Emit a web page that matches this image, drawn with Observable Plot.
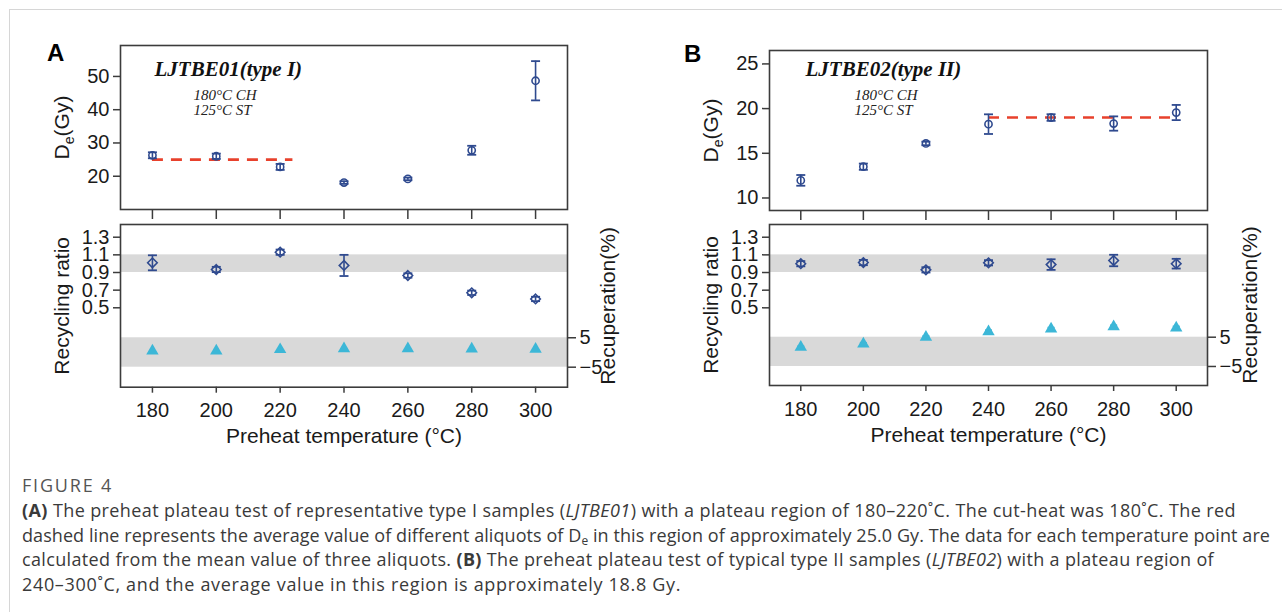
<!DOCTYPE html>
<html>
<head>
<meta charset="utf-8">
<script src="https://cdn.jsdelivr.net/npm/d3@7"></script>
<script src="https://cdn.jsdelivr.net/npm/@observablehq/plot@0.6"></script>
<style>
html,body{margin:0;padding:0;background:#fff;}
#root{position:relative;width:1282px;height:612px;overflow:hidden;font-family:"Liberation Sans",Arial,sans-serif;}
#card{position:absolute;left:9px;top:9px;right:-5px;bottom:-5px;border-top:1px solid #d6d6d6;border-left:1px solid #d6d6d6;}
.abs{position:absolute;top:0;}
.letter{position:absolute;font:bold 24px "Liberation Sans",Arial,sans-serif;line-height:24px;color:#000;}
#caption{position:absolute;left:22px;top:473px;font-family:"Open Sans",sans-serif;font-size:18px;color:#3a3a3a;line-height:24.8px;white-space:nowrap;}
#caption .ln{display:block;width:max-content;}
#caption .fig{color:#555;}
#caption sub{font-size:12px;vertical-align:-3px;line-height:0;}
</style>
</head>
<body>
<div id="root">
  <div id="card"></div>
  <div class="letter" style="left:47px;top:41px;">A</div>
  <div class="letter" style="left:684px;top:42px;">B</div>
  <div id="caption">
    <span class="ln fig" data-w="91">FIGURE 4</span>
    <span class="ln" data-w="1214"><b>(A)</b> The preheat plateau test of representative type I samples (<i>LJTBE01</i>) with a plateau region of 180–220˚C. The cut-heat was 180˚C. The red</span>
    <span class="ln" data-w="1248">dashed line represents the average value of different aliquots of D<sub>e</sub> in this region of approximately 25.0 Gy. The data for each temperature point are</span>
    <span class="ln" data-w="1192">calculated from the mean value of three aliquots. <b>(B)</b> The preheat plateau test of typical type II samples (<i>LJTBE02</i>) with a plateau region of</span>
    <span class="ln" data-w="659">240–300˚C, and the average value in this region is approximately 18.8 Gy.</span>
  </div>
</div>
<script>
// ---------- data ----------
const temps = [180, 200, 220, 240, 260, 280, 300];

const deA      = [26.3, 26.0, 22.8, 18.1, 19.2, 27.8, 48.7];
const deErrA   = [0.9, 0.8, 0.9, 0.4, 0.4, 1.35, 5.9];
const deB      = [11.97, 13.5, 16.1, 18.26, 19.0, 18.33, 19.56];
const deErrB   = [0.6, 0.35, 0.2, 1.1, 0.37, 0.8, 0.85];

const ratioA    = [1.01, 0.934, 1.13, 0.98, 0.866, 0.67, 0.60];
const ratioErrA = [0.085, 0.03, 0.03, 0.12, 0.025, 0.025, 0.025];
const ratioB    = [1.0, 1.013, 0.93, 1.01, 0.99, 1.036, 1.0];
const ratioErrB = [0.03, 0.03, 0.03, 0.03, 0.06, 0.065, 0.055];

const recupA    = [0.5, 0.5, 1.0, 1.3, 1.3, 1.2, 1.1];
const recupErrA = [0, 0, 0, 0, 0, 0, 0];
const recupB    = [1.6, 2.7, 5.0, 6.9, 7.8, 8.6, 8.2];
const recupErrB = [0.3, 0.4, 0.4, 0.5, 0.5, 0.5, 0.5];

const plateauA = [180, 224, 25.0];   // x1, x2, De
const plateauB = [240, 300, 19.0];

const deTicksA = [20, 30, 40, 50];
const deTicksB = [10, 15, 20, 25];
const ratioTicks = [0.5, 0.7, 0.9, 1.1, 1.3];
const recupTicks = [-5, 5];
const ratioBand = [0.9, 1.1];
const recupBand = [-5, 5];

const titleA = "LJTBE01(type I)";
const titleB = "LJTBE02(type II)";
const notes = "180°C CH\n125°C ST";
const deLabel = "De(Gy)";
const ratioLabel = "Recycling ratio";
const recupLabel = "Recuperation(%)";
const xLabel = "Preheat temperature (°C)";

// ---------- style ----------
const blue = "#2f4a8f", cyan = "#3cb7d7", red = "#e8412c", bandFill = "#d9d9d9";
const ink = "#1a1a1a", frameCol = "#3c3c3c";
const sans = "'Liberation Sans', Arial, sans-serif";
const serif = "'Liberation Serif', 'Times New Roman', serif";
const capSymbol = {draw(ctx, size) { const r = Math.sqrt(size / Math.PI); ctx.moveTo(-r, 0); ctx.lineTo(r, 0); }};
const baseStyle = {background: "transparent", fontFamily: sans, fontSize: "20px", color: ink, overflow: "visible"};
const xDomain = [170, 310];

function subscriptDe(svg) {
  const ns = "http://www.w3.org/2000/svg";
  svg.querySelectorAll("text").forEach(t => {
    if (t.textContent === deLabel) {
      t.textContent = "";
      const a = document.createElementNS(ns, "tspan"); a.textContent = "D";
      const b = document.createElementNS(ns, "tspan"); b.textContent = "e";
      b.setAttribute("font-size", "14"); b.setAttribute("dy", "5");
      const c = document.createElementNS(ns, "tspan"); c.textContent = "(Gy)";
      c.setAttribute("dy", "-5");
      t.append(a, b, c);
    }
  });
}

function place(svg, left) {
  svg.classList.add("abs");
  svg.style.left = left + "px";
  svg.style.position = "absolute";
  svg.style.maxWidth = "none";
  document.getElementById("root").appendChild(svg);
}

function panel(cfg) {
  const W = 642;
  const mL = cfg.L - cfg.left0, mR = W - (cfg.R - cfg.left0);
  const deRows = temps.map((t, i) => ({t, v: cfg.de[i], lo: cfg.de[i] - cfg.deErr[i], hi: cfg.de[i] + cfg.deErr[i]}));
  const rRows = temps.map((t, i) => ({t, v: cfg.ratio[i], lo: cfg.ratio[i] - cfg.ratioErr[i], hi: cfg.ratio[i] + cfg.ratioErr[i]}));
  const cRows = temps.map((t, i) => ({t, v: cfg.recup[i], e: cfg.recupErr[i], lo: cfg.recup[i] - cfg.recupErr[i], hi: cfg.recup[i] + cfg.recupErr[i]}));
  const cErrRows = cRows.filter(d => d.e > 0);

  // bottom: recuperation (right axis)
  const HB = 460;
  const recupPlot = Plot.plot({
    width: W, height: HB, marginLeft: mL, marginRight: mR,
    marginTop: cfg.botT, marginBottom: HB - cfg.botB,
    x: {domain: xDomain, axis: null}, y: {domain: cfg.recupDomain, axis: null},
    style: baseStyle,
    marks: [
      Plot.rect([recupBand], {y1: d => d[0], y2: d => d[1], fill: bandFill}),
      Plot.ruleX(cErrRows, {x: "t", y1: "lo", y2: "hi", stroke: cyan, strokeWidth: 1.5}),
      Plot.dot(cErrRows, {x: "t", y: "hi", symbol: capSymbol, r: 3.5, stroke: cyan, strokeWidth: 1.6, fill: "none"}),
      Plot.dot(cRows, {x: "t", y: "v", symbol: "triangle", r: 4.6, fill: cyan, stroke: "none"}),
      Plot.axisY({anchor: "right", ticks: recupTicks, tickSize: 8, tickPadding: 4, label: null, fontSize: 20, strokeWidth: 1.5, stroke: frameCol}),
      Plot.text([recupLabel], {frameAnchor: "right", rotate: -90, dx: cfg.recupDx, textAnchor: "middle", lineAnchor: "middle", fontSize: 21, fill: ink})
    ]
  });
  place(recupPlot, cfg.left0);

  // bottom: recycling ratio (left axis)
  const ratioPlot = Plot.plot({
    width: W, height: HB, marginLeft: mL, marginRight: mR,
    marginTop: cfg.botT, marginBottom: HB - cfg.botB,
    x: {domain: xDomain}, y: {domain: cfg.ratioDomain},
    style: baseStyle,
    marks: [
      Plot.rect([ratioBand], {y1: d => d[0], y2: d => d[1], fill: bandFill}),
      Plot.ruleX(rRows, {x: "t", y1: "lo", y2: "hi", stroke: blue, strokeWidth: 1.6}),
      Plot.dot(rRows, {x: "t", y: "lo", symbol: capSymbol, r: 4.5, stroke: blue, strokeWidth: 1.8, fill: "none"}),
      Plot.dot(rRows, {x: "t", y: "hi", symbol: capSymbol, r: 4.5, stroke: blue, strokeWidth: 1.8, fill: "none"}),
      Plot.dot(rRows, {x: "t", y: "v", symbol: "diamond2", r: 4.3, stroke: blue, strokeWidth: 1.6, fill: "none"}),
      Plot.axisY({ticks: ratioTicks, tickFormat: d3.format(".1f"), tickSize: 7, tickPadding: 4, label: null, fontSize: 20, strokeWidth: 1.5, stroke: frameCol}),
      Plot.axisX({ticks: temps, tickSize: 6, tickPadding: 10, label: null, fontSize: 20, strokeWidth: 1.5, stroke: frameCol}),
      Plot.frame({stroke: frameCol, strokeWidth: 1.6}),
      Plot.text([ratioLabel], {frameAnchor: "left", rotate: -90, dx: -58, textAnchor: "middle", lineAnchor: "middle", fontSize: 21, fill: ink}),
      Plot.text([xLabel], {frameAnchor: "bottom", dy: 49.5, textAnchor: "middle", lineAnchor: "middle", fontSize: 21, fill: ink})
    ]
  });
  place(ratioPlot, cfg.left0);

  // top: De
  const HT = 240;
  const dePlot = Plot.plot({
    width: W, height: HT, marginLeft: mL, marginRight: mR,
    marginTop: cfg.topT, marginBottom: HT - cfg.topB,
    x: {domain: xDomain}, y: {domain: cfg.deDomain},
    style: baseStyle,
    marks: [
      Plot.ruleY([cfg.plateau], {x1: d => d[0], x2: d => d[1], y: d => d[2], stroke: red, strokeWidth: 2.6, strokeDasharray: "11,8"}),
      Plot.ruleX(deRows, {x: "t", y1: "lo", y2: "hi", stroke: blue, strokeWidth: 1.6}),
      Plot.dot(deRows, {x: "t", y: "lo", symbol: capSymbol, r: 4.5, stroke: blue, strokeWidth: 1.8, fill: "none"}),
      Plot.dot(deRows, {x: "t", y: "hi", symbol: capSymbol, r: 4.5, stroke: blue, strokeWidth: 1.8, fill: "none"}),
      Plot.dot(deRows, {x: "t", y: "v", symbol: "circle", r: 3.6, stroke: blue, strokeWidth: 1.6, fill: "none"}),
      Plot.axisX({ticks: temps, tickSize: 10, tickFormat: () => "", label: null, strokeWidth: 1.5, stroke: frameCol}),
      Plot.axisY({ticks: cfg.deTicks, tickSize: 7, tickPadding: 4, label: null, fontSize: 20, strokeWidth: 1.5, stroke: frameCol}),
      Plot.frame({stroke: frameCol, strokeWidth: 1.6}),
      Plot.text([deLabel], {frameAnchor: "left", rotate: -90, dx: -58, textAnchor: "middle", lineAnchor: "middle", fontSize: 21, fill: ink}),
      Plot.text([cfg.title], {frameAnchor: "top-left", dx: cfg.titleDx, dy: cfg.titleDy, textAnchor: "start", lineAnchor: "middle",
        fontFamily: serif, fontStyle: "italic", fontWeight: "bold", fontSize: 21, fill: "#111"}),
      Plot.text([notes], {frameAnchor: "top-left", dx: cfg.notesDx, dy: cfg.notesDy, textAnchor: "start", lineAnchor: "middle",
        lineHeight: 1, fontFamily: serif, fontStyle: "italic", fontSize: 15, fill: "#222"})
    ]
  });
  subscriptDe(dePlot);
  place(dePlot, cfg.left0);
}

panel({
  left0: 0, L: 120, R: 567, topT: 45, topB: 209, botT: 224, botB: 386.7,
  de: deA, deErr: deErrA, deDomain: [10, 59.3], deTicks: deTicksA, plateau: plateauA,
  ratio: ratioA, ratioErr: ratioErrA, ratioDomain: [-0.4, 1.444],
  recup: recupA, recupErr: recupErrA, recupDomain: [-11.8, 43.5],
  title: titleA, titleDx: 34, titleDy: 23.3, notesDx: 73, notesDy: 57.5, recupDx: 41
});
panel({
  left0: 640, L: 769, R: 1207, topT: 50, topB: 210, botT: 224, botB: 385,
  de: deB, deErr: deErrB, deDomain: [8.6, 26.5], deTicks: deTicksB, plateau: plateauB,
  ratio: ratioB, ratioErr: ratioErrB, ratioDomain: [-0.38, 1.444],
  recup: recupB, recupErr: recupErrB, recupDomain: [-11.5, 43.5],
  title: titleB, titleDx: 36, titleDy: 18.3, notesDx: 85, notesDy: 52.5, recupDx: 43
});

// fit each caption line to the width it has in the figure
document.querySelectorAll("#caption .ln").forEach(el => {
  const target = +el.dataset.w;
  el.style.letterSpacing = "0px";
  const natural = el.getBoundingClientRect().width;
  const n = el.textContent.length;
  const ls = Math.max(-1.2, Math.min(3, (target - natural) / n));
  el.style.letterSpacing = ls.toFixed(3) + "px";
});
</script>
</body>
</html>
